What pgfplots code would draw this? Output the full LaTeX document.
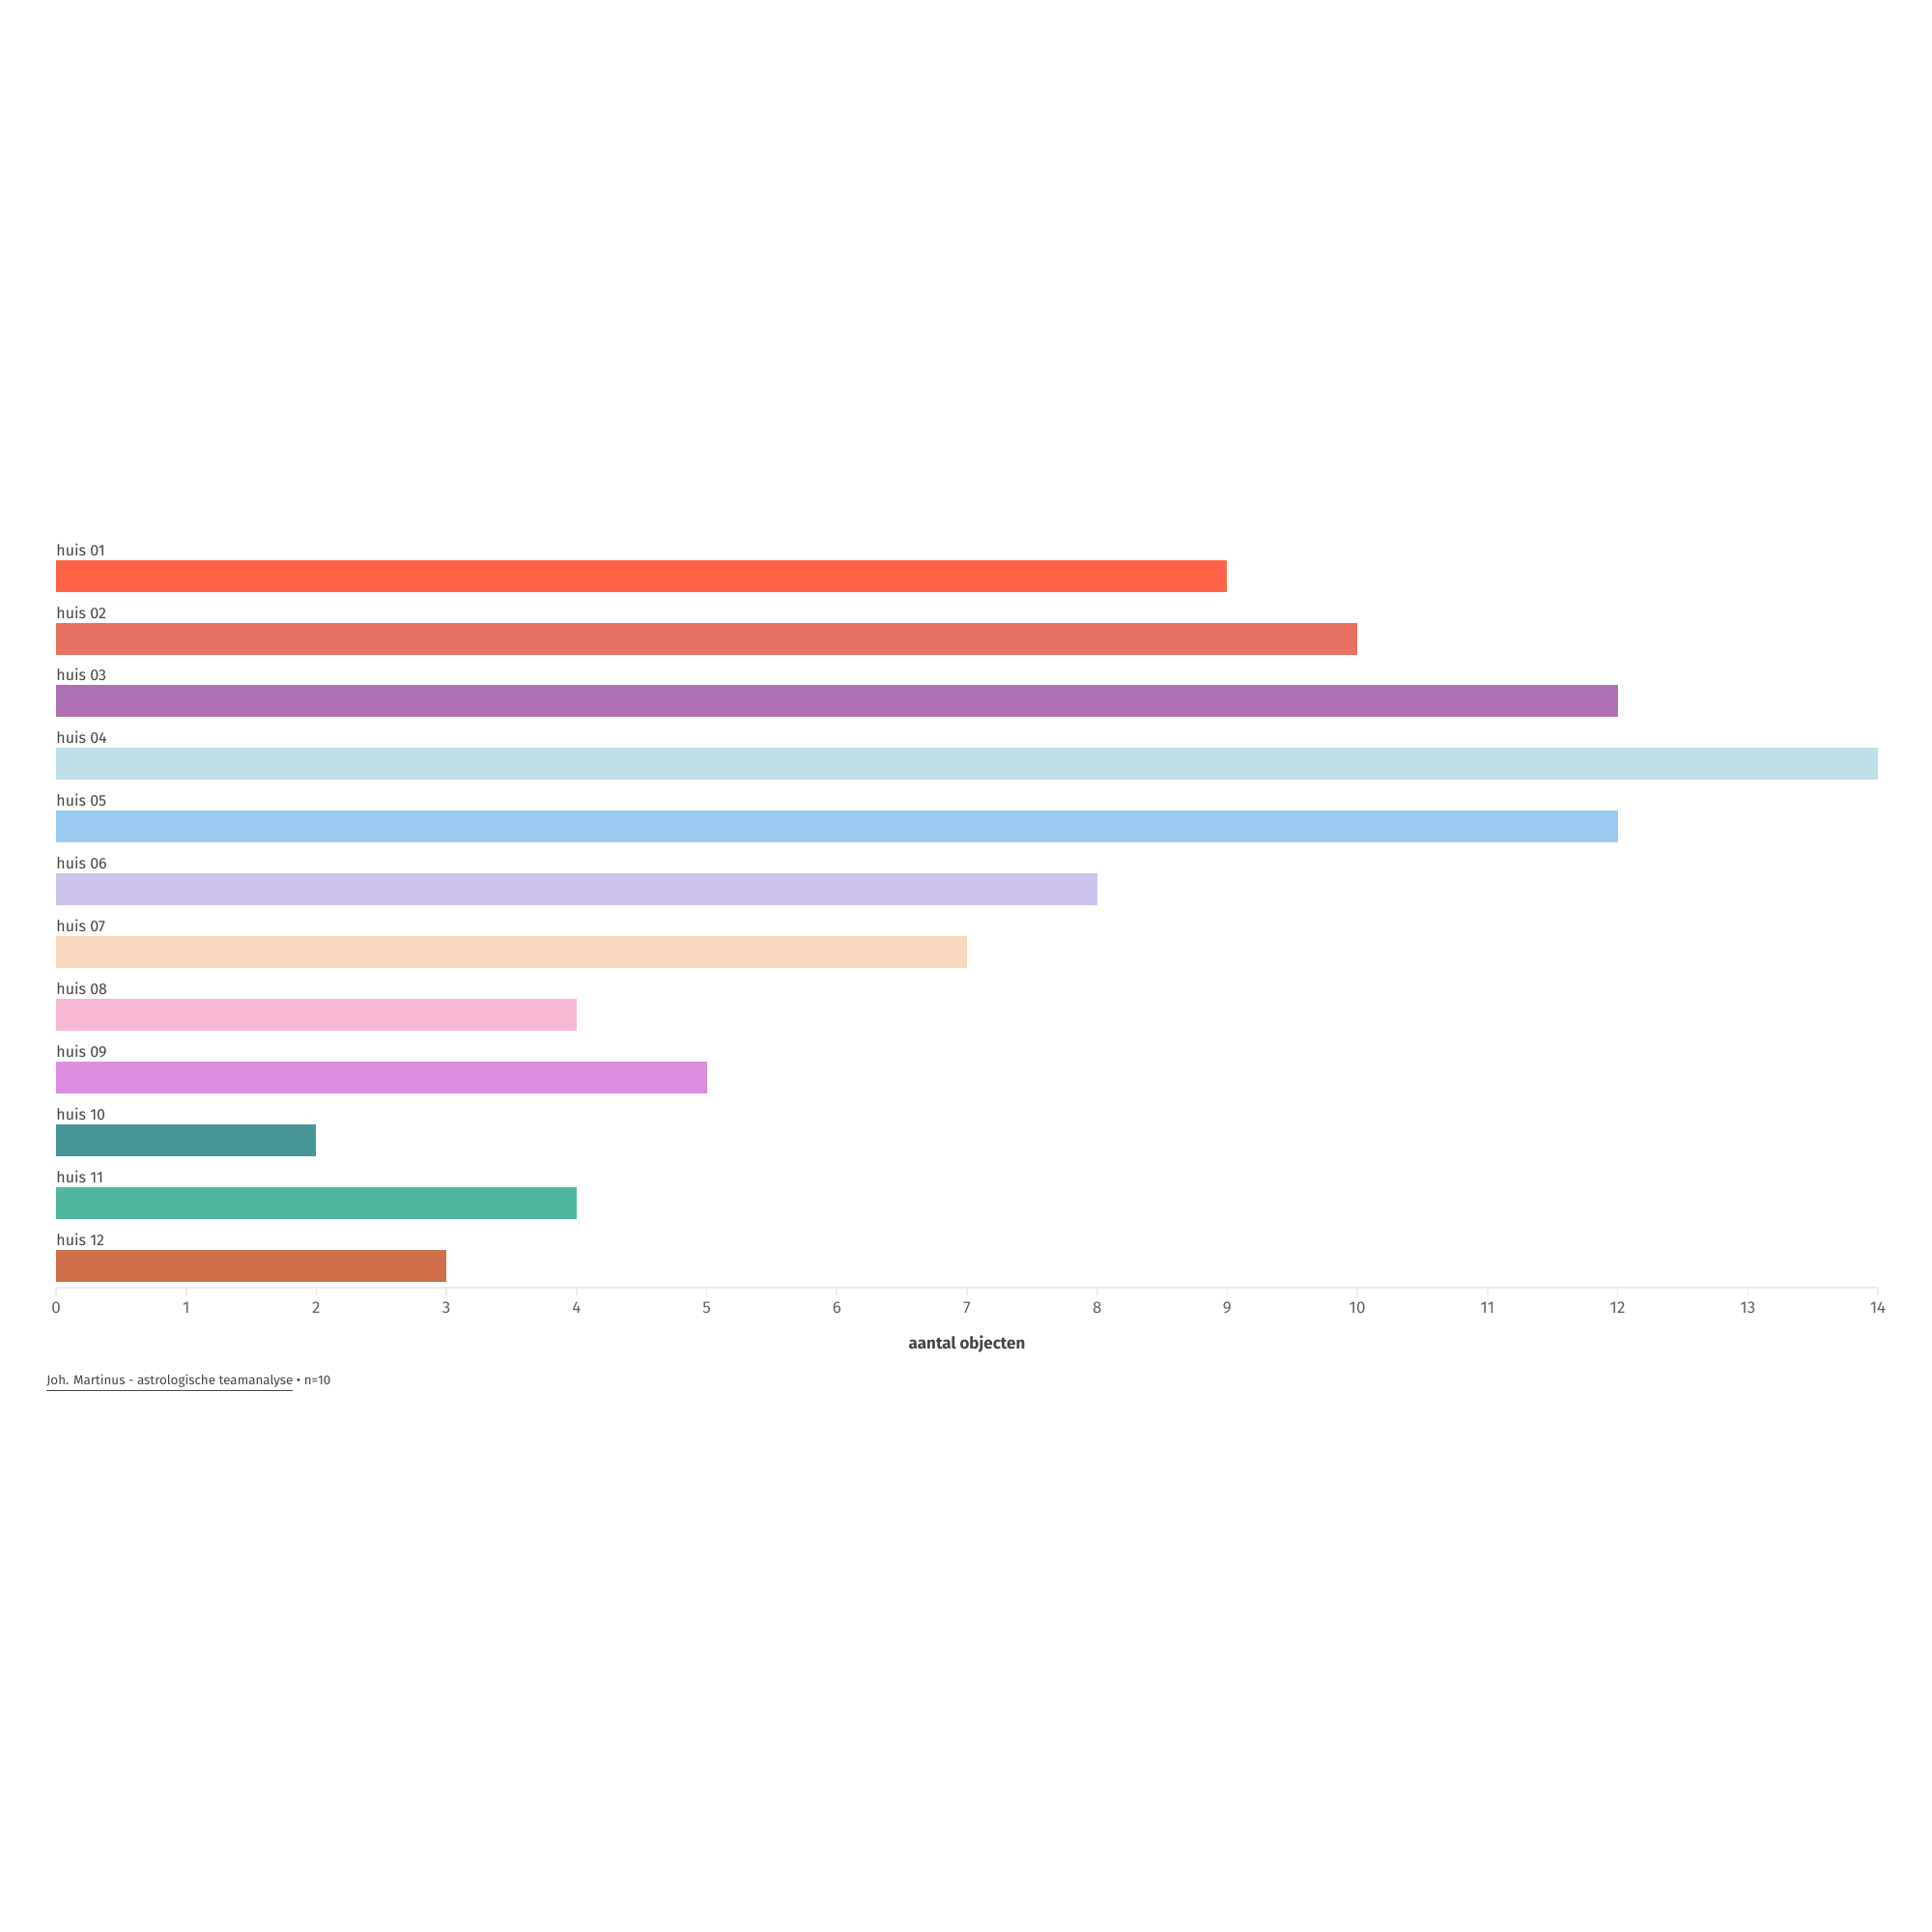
\documentclass[border=0pt]{standalone}
\usepackage{pgfplots}
\pgfplotsset{compat=1.18}
\usepackage{fontspec}
\setmainfont{Fira Sans}

\definecolor{c01}{HTML}{FF6347}
\definecolor{c02}{HTML}{E87061}
\definecolor{c03}{HTML}{AE71B4}
\definecolor{c04}{HTML}{BDDFE8}
\definecolor{c05}{HTML}{98CAEF}
\definecolor{c06}{HTML}{CCC2EB}
\definecolor{c07}{HTML}{FAD7BF}
\definecolor{c08}{HTML}{F7B8D4}
\definecolor{c09}{HTML}{DC8EE0}
\definecolor{c10}{HTML}{469596}
\definecolor{c11}{HTML}{50B7A0}
\definecolor{c12}{HTML}{D06E4A}
\definecolor{axisgray}{HTML}{EBEBEB}
\definecolor{txt}{HTML}{444444}

\begin{document}
\begin{tikzpicture}
  % page frame, 1px of the reference = 0.5pt
  \path (0,0) rectangle (1000pt,1000pt);

  \begin{axis}[
      at={(29pt,333.5pt)}, anchor=south west,
      scale only axis,
      width=943pt, height=384.7pt,
      xbar, bar width=16.5pt, bar shift=0pt,
      xmin=0, xmax=14,
      ymin=-12.346, ymax=-0.5,
      axis x line*=bottom, axis y line*=left,
      x axis line style={-, draw=axisgray, line width=1.2pt},
      y axis line style={draw=none},
      xtick={0,...,14},
      xtick style={draw=axisgray, line width=0.8pt},
      tick align=outside, major tick length=4pt,
      ytick={-1,-2,-3,-4,-5,-6,-7,-8,-9,-10,-11,-12},
      yticklabels={huis 01,huis 02,huis 03,huis 04,huis 05,huis 06,huis 07,huis 08,huis 09,huis 10,huis 11,huis 12},
      ytick style={draw=none},
      yticklabel style={anchor=base west, inner sep=0pt, xshift=4pt, yshift=10.5pt, font=\fontsize{8}{9}\selectfont, text=txt},
      xticklabel style={font=\fontsize{8.5}{9}\selectfont, text=txt!85},
      /pgf/number format/assume math mode=true,
      xlabel={aantal objecten},
      xlabel style={at={(axis description cs:0.5,0)}, anchor=center, yshift=-29pt, font=\bfseries\fontsize{8.5}{10}\selectfont, text=txt},
      clip=false,
    ]
    \addplot[fill=c01, draw=none] coordinates {(9,-1)};
    \addplot[fill=c02, draw=none] coordinates {(10,-2)};
    \addplot[fill=c03, draw=none] coordinates {(12,-3)};
    \addplot[fill=c04, draw=none] coordinates {(14,-4)};
    \addplot[fill=c05, draw=none] coordinates {(12,-5)};
    \addplot[fill=c06, draw=none] coordinates {(8,-6)};
    \addplot[fill=c07, draw=none] coordinates {(7,-7)};
    \addplot[fill=c08, draw=none] coordinates {(4,-8)};
    \addplot[fill=c09, draw=none] coordinates {(5,-9)};
    \addplot[fill=c10, draw=none] coordinates {(2,-10)};
    \addplot[fill=c11, draw=none] coordinates {(4,-11)};
    \addplot[fill=c12, draw=none] coordinates {(3,-12)};
  \end{axis}

  \node[anchor=west, inner sep=0pt, font=\fontsize{6.7}{8}\selectfont, text=txt]
    at (24pt,284pt) {\underline{Joh. Martinus - astrologische teamanalyse} • n=10};
\end{tikzpicture}
\end{document}
